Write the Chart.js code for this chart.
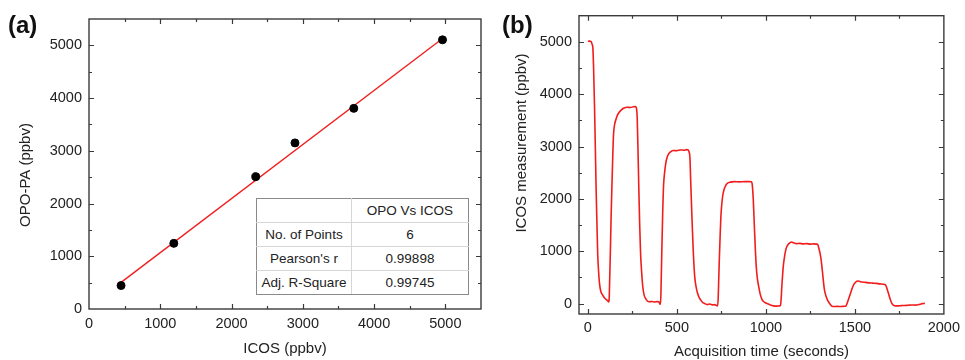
<!DOCTYPE html>
<html>
<head>
<meta charset="utf-8">
<script src="https://cdn.jsdelivr.net/npm/chart.js@4.4.1/dist/chart.umd.min.js"></script>
<style>
  body { margin: 0; background: #fff; font-family: "Liberation Sans", Arial, sans-serif; }
  #page { position: relative; width: 965px; height: 360px; overflow: hidden; }
  canvas { position: absolute; top: 0; }
  #chartA { left: 0; }
  #chartB { left: 490px; }
  .tag { position: absolute; top: 13px; font-size: 24px; font-weight: bold; line-height: 1; color: #111; }
  #stats { position: absolute; left: 256px; top: 198px; width: 213px; height: 94px;
           border-collapse: collapse; border: 1px solid #8a8a8a; background: #fff;
           font-size: 13.5px; color: #222; table-layout: fixed; }
  #stats td { border: 1px solid #d6d6d6; text-align: center; padding: 0; height: 23px; }
  #stats tr:first-child td { border-top-color: #8a8a8a; }
  #stats td:first-child { width: 94px; border-left-color: #8a8a8a; }
  #stats td:last-child { border-right-color: #8a8a8a; }
  #stats tr:last-child td { border-bottom-color: #8a8a8a; }
</style>
</head>
<body>
<div id="page">
  <canvas id="chartA" width="490" height="360"></canvas>
  <canvas id="chartB" width="475" height="360"></canvas>
  <div class="tag" style="left:8px">(a)</div>
  <div class="tag" style="left:502px">(b)</div>
  <table id="stats"></table>
</div>
<script>
// (a) OPO-PA vs ICOS
var icosPpbv  = [450, 1190, 2340, 2890, 3715, 4960];
var opoPaPpbv = [445, 1245, 2510, 3150, 3805, 5105];
var fitIcos = [450, 4970];
var fitOpo  = [505, 5140];
var ticksA = [0, 1000, 2000, 3000, 4000, 5000];

var statHeader = ['', 'OPO Vs ICOS'];
var statNames  = ['No. of Points', "Pearson's r", 'Adj. R-Square'];
var statValues = ['6', '0.99898', '0.99745'];

// (b) ICOS time series
var timeS = [0, 8, 18, 24, 28, 32, 37, 42, 46, 51, 55, 60, 65, 72, 83, 95, 105, 112, 116, 119,
  122, 126, 130, 135, 140, 144, 150, 157, 166, 175, 188, 203, 220, 240, 255, 268, 273, 277, 281, 286,
  291, 296, 302, 308, 316, 327, 342, 360, 375, 390, 400, 404, 408, 411, 415, 420, 425, 431, 437, 444,
  452, 465, 480, 500, 520, 540, 555, 563, 568, 573, 578, 585, 592, 600, 610, 622, 635, 645, 656, 670,
  685, 700, 711, 720, 729, 732, 735, 738, 743, 747, 751, 757, 766, 775, 785, 800, 822, 850, 880, 905,
  919, 923, 929, 935, 941, 946, 952, 960, 968, 978, 988, 1000, 1006, 1020, 1043, 1060, 1075, 1082, 1086, 1090,
  1094, 1098, 1105, 1112, 1118, 1125, 1135, 1144, 1155, 1172, 1190, 1210, 1230, 1250, 1270, 1285, 1292, 1298, 1305, 1311,
  1318, 1324, 1329, 1340, 1350, 1357, 1366, 1376, 1400, 1425, 1440, 1449, 1458, 1468, 1478, 1486, 1495, 1505, 1514, 1525,
  1540, 1560, 1580, 1600, 1620, 1640, 1660, 1670, 1676, 1682, 1689, 1696, 1703, 1710, 1716, 1730, 1744, 1760, 1780, 1800,
  1818, 1840, 1860, 1875, 1885, 1893];
var icosMeas = [5010, 5015, 5005, 4950, 4880, 4500, 3800, 2950, 2220, 1500, 950, 620, 390, 240, 160, 100, 70, 50, 30, 60,
  400, 950, 1600, 2250, 2850, 3230, 3420, 3510, 3600, 3650, 3700, 3735, 3750, 3745, 3760, 3765, 3730, 3550, 3000, 2220,
  1500, 950, 600, 330, 160, 80, 35, 38, 30, 36, 30, -5, -15, 300, 950, 1700, 2250, 2500, 2670, 2780,
  2850, 2900, 2925, 2920, 2935, 2930, 2940, 2935, 2900, 2800, 2300, 1600, 1000, 520, 280, 140, 60, 20, 0, -20,
  -10, -25, -20, -35, -45, 100, 450, 800, 1300, 1650, 1850, 2050, 2190, 2260, 2300, 2320, 2330, 2325, 2330, 2330,
  2325, 2280, 2000, 1500, 1020, 700, 480, 320, 180, 80, 35, 10, 0, -20, -45, -50, -45, -40, 100, 350,
  550, 720, 900, 1030, 1090, 1130, 1160, 1175, 1160, 1145, 1150, 1140, 1145, 1135, 1140, 1135, 1125, 1050, 950, 820,
  600, 400, 260, 120, 40, 5, -35, -57, -55, -58, -52, -50, 20, 120, 220, 300, 370, 410, 432, 425,
  410, 405, 395, 390, 385, 375, 370, 360, 330, 270, 190, 110, 40, -10, -30, -45, -45, -40, -38, -32,
  -28, -30, -20, -5, 0, 5];
var ticksBx = [0, 500, 1000, 1500, 2000];
var ticksBy = [0, 1000, 2000, 3000, 4000, 5000];

var textColor = '#222';
var tickFont = { family: '"Liberation Sans", Arial, sans-serif', size: 14.5 };
var titleFont = { family: '"Liberation Sans", Arial, sans-serif', size: 15 };

// build the inset table
var tbl = document.getElementById('stats');
var rows = [statHeader].concat(statNames.map(function (n, i) { return [n, statValues[i]]; }));
rows.forEach(function (r) {
  var tr = document.createElement('tr');
  r.forEach(function (c) { var td = document.createElement('td'); td.textContent = c; tr.appendChild(td); });
  tbl.appendChild(tr);
});

// frame with inward ticks on all four sides
var tickFrame = {
  id: 'tickFrame',
  afterDatasetsDraw: function (chart, args, opt) {
    var ctx = chart.ctx, a = chart.chartArea, x = chart.scales.x, y = chart.scales.y;
    ctx.save();
    ctx.strokeStyle = '#3a3a3a';
    ctx.lineWidth = 1.2;
    ctx.beginPath();
    function xMarks(vals, len) {
      vals.forEach(function (v) {
        if (v <= x.min || v >= x.max) return;
        var px = Math.round(x.getPixelForValue(v)) + 0.5;
        ctx.moveTo(px, a.bottom); ctx.lineTo(px, a.bottom - len);
        ctx.moveTo(px, a.top); ctx.lineTo(px, a.top + len);
      });
    }
    function yMarks(vals, len) {
      vals.forEach(function (v) {
        if (v <= y.min || v >= y.max) return;
        var py = Math.round(y.getPixelForValue(v)) + 0.5;
        ctx.moveTo(a.left, py); ctx.lineTo(a.left + len, py);
        ctx.moveTo(a.right, py); ctx.lineTo(a.right - len, py);
      });
    }
    function steps(min, max, step) {
      var out = [];
      for (var v = Math.ceil(min / step) * step; v <= max; v += step) out.push(v);
      return out;
    }
    xMarks(x.ticks.map(function (t) { return t.value; }), 5);
    yMarks(y.ticks.map(function (t) { return t.value; }), 5);
    xMarks(steps(x.min, x.max, opt.xMinor), 3);
    yMarks(steps(y.min, y.max, opt.yMinor), 3);
    ctx.stroke();
    ctx.lineWidth = 1.4;
    ctx.strokeRect(a.left, a.top, a.right - a.left, a.bottom - a.top);
    // rotated y title
    ctx.fillStyle = textColor;
    ctx.font = '15px "Liberation Sans", Arial, sans-serif';
    ctx.textAlign = 'center';
    ctx.textBaseline = 'middle';
    ctx.translate(opt.yTitleX, opt.yTitleY);
    ctx.rotate(-Math.PI / 2);
    ctx.fillText(opt.yTitle, 0, 0);
    ctx.restore();
  }
};

function fixedTicks(list) {
  return function (scale) { scale.ticks = list.map(function (v) { return { value: v }; }); };
}
function plain(v) { return String(v); }
var noGrid = { display: false, drawTicks: false };

new Chart(document.getElementById('chartA'), {
  type: 'scatter',
  data: {
    datasets: [{
      data: icosPpbv.map(function (v, i) { return { x: v, y: opoPaPpbv[i] }; }),
      backgroundColor: '#000', borderColor: '#000', pointRadius: 4, pointHoverRadius: 4
    }, {
      type: 'line',
      data: fitIcos.map(function (v, i) { return { x: v, y: fitOpo[i] }; }),
      borderColor: '#f02020', borderWidth: 1.4, pointRadius: 0, fill: false
    }]
  },
  options: {
    responsive: false, animation: false,
    layout: { padding: { left: 0, top: 19, right: 9, bottom: 0 } },
    plugins: { legend: { display: false }, tooltip: { enabled: false },
      tickFrame: { xMinor: 500, yMinor: 500, yTitle: 'OPO-PA (ppbv)', yTitleX: 26, yTitleY: 175 } },
    scales: {
      x: {
        type: 'linear', min: 0, max: 5500,
        afterBuildTicks: fixedTicks(ticksA),
        afterFit: function (s) { s.height = 51; },
        grid: noGrid, border: { display: false },
        ticks: { color: textColor, font: tickFont, padding: 6, maxRotation: 0, callback: plain },
        title: { display: true, text: 'ICOS (ppbv)', color: textColor, font: titleFont, padding: { top: 0, bottom: 2 } }
      },
      y: {
        type: 'linear', min: 0, max: 5500,
        afterBuildTicks: fixedTicks(ticksA),
        afterFit: function (s) { s.width = 89; },
        grid: noGrid, border: { display: false },
        ticks: { color: textColor, font: tickFont, padding: 7, callback: plain }
      }
    }
  },
  plugins: [tickFrame]
});

new Chart(document.getElementById('chartB'), {
  type: 'line',
  data: {
    datasets: [{
      data: timeS.map(function (t, i) { return { x: t, y: icosMeas[i] }; }),
      borderColor: '#f21c1c', borderWidth: 1.6, pointRadius: 0, fill: false,
      cubicInterpolationMode: 'monotone'
    }]
  },
  options: {
    responsive: false, animation: false,
    layout: { padding: { left: 0, top: 15, right: 15, bottom: 0 } },
    plugins: { legend: { display: false }, tooltip: { enabled: false },
      tickFrame: { xMinor: 250, yMinor: 500, yTitle: 'ICOS measurement (ppbv)', yTitleX: 32, yTitleY: 143 } },
    scales: {
      x: {
        type: 'linear', min: -50, max: 2000,
        afterBuildTicks: fixedTicks(ticksBx),
        afterFit: function (s) { s.height = 46; },
        grid: noGrid, border: { display: false },
        ticks: { color: textColor, font: tickFont, padding: 5, maxRotation: 0, callback: plain },
        title: { display: true, text: 'Acquisition time (seconds)', color: textColor,
          font: { family: titleFont.family, size: 15, lineHeight: 1.1 }, padding: { top: 0, bottom: 0 } }
      },
      y: {
        type: 'linear', min: -200, max: 5500,
        afterBuildTicks: fixedTicks(ticksBy),
        afterFit: function (s) { s.width = 89; },
        grid: noGrid, border: { display: false },
        ticks: { color: textColor, font: tickFont, padding: 7, callback: plain }
      }
    }
  },
  plugins: [tickFrame]
});
</script>
</body>
</html>
